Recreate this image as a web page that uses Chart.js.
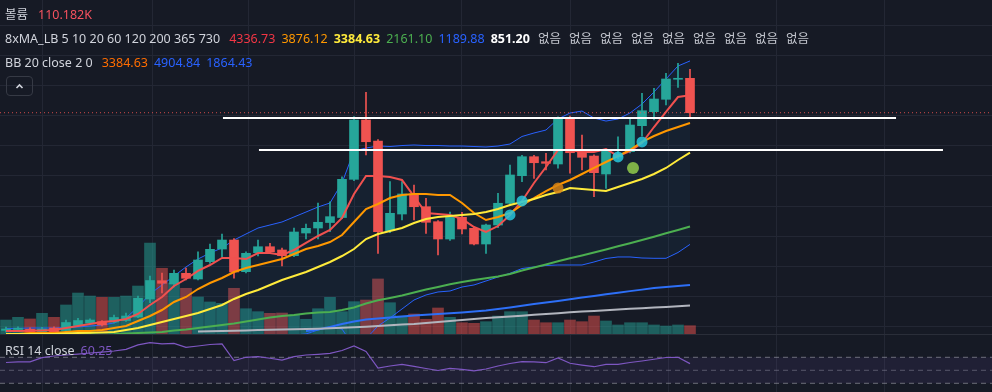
<!DOCTYPE html>
<html>
<head>
<meta charset="utf-8">
<script src="https://cdn.jsdelivr.net/npm/chart.js@4/dist/chart.umd.min.js"></script>
<style>
html, body { margin: 0; padding: 0; background: #161a25; }
#wrap { position: relative; width: 992px; height: 392px; overflow: hidden; background: #161a25;
  font-family: "Noto Sans", "Noto Sans CJK KR", sans-serif; font-size: 12.5px; color: #d1d4dc; }
#main { position: absolute; left: 0; top: 0; }
#rsi { position: absolute; left: 0; top: 335px; }
.sep { position: absolute; left: 0; top: 334px; width: 992px; height: 1px; background: #2a2e39; }
.row { position: absolute; left: 5px; display: flex; column-gap: 6px; white-space: nowrap; line-height: 16px; }
.row .first { margin-left: 3px; }
.row .na { margin-left: 2px; color: #c3c6ce; }
.btn { position: absolute; left: 6px; top: 76px; width: 27px; height: 20px; border: 1px solid #363a45; border-radius: 4px; box-sizing: border-box; }
</style>
</head>
<body>
<div id="wrap">
  <canvas id="main" width="992" height="334"></canvas>
  <div class="sep"></div>
  <canvas id="rsi" width="992" height="57"></canvas>

  <div class="row" style="top:7px;column-gap:10px">
    <span>볼륨</span><span style="color:#f7525f">110.182K</span>
  </div>
  <div class="row" style="top:31px">
    <span>8xMA_LB 5 10 20 60 120 200 365 730</span>
    <span class="first" style="color:#f23645">4336.73</span>
    <span style="color:#ff9800">3876.12</span>
    <span style="color:#ffeb3b;font-weight:bold">3384.63</span>
    <span style="color:#4caf50">2161.10</span>
    <span style="color:#2962ff">1189.88</span>
    <span style="color:#ffffff;font-weight:bold">851.20</span>
    <span class="na">없음</span><span class="na">없음</span><span class="na">없음</span>
    <span class="na">없음</span><span class="na">없음</span><span class="na">없음</span>
    <span class="na">없음</span><span class="na">없음</span><span class="na">없음</span>
  </div>
  <div class="row" style="top:55px">
    <span>BB 20 close 2 0</span>
    <span class="first" style="color:#ff6d00">3384.63</span>
    <span style="color:#2962ff">4904.84</span>
    <span style="color:#2962ff">1864.43</span>
  </div>

  <div class="btn">
    <svg width="25" height="18" viewBox="0 0 25 18"><polyline points="9.5,11 12.5,8 15.5,11" fill="none" stroke="#d1d4dc" stroke-width="1.6"/></svg>
  </div>

  <div class="row" style="top:343px">
    <span>RSI 14 close</span><span style="color:#7e57c2">60.25</span>
  </div>
</div>

<script>
// candles, oldest first
const opens  = [440,455,457,418,479,438,520,562,583,578,603,661,960,1263,1208,1385,1291,1578,1788,1937,
                1412,1727,1826,1772,1677,2053,2136,2227,2310,2943,3926,3578,2092,2368,2700,2489,2241,1954,2314,2131,
                1871,2186,2546,3003,3318,3235,3197,3954,3401,3329,3031,3313,3401,3832,4064,4269,4601,4617]
const highs  = [495,500,480,490,500,612,640,630,600,694,727,1009,1341,1390,1440,1473,1743,1871,2037,1960,
                1740,1937,1883,1805,2136,2203,2551,2572,2986,3981,4385,3600,2904,2904,2849,2628,2260,2401,2396,2150,
                2200,2711,3180,3340,3340,3374,3980,3990,3678,3350,3440,3649,3938,4369,4451,4700,4866,4766]
const lows   = [415,435,400,405,405,420,505,545,515,565,590,650,898,1059,1160,1274,1274,1550,1661,1303,
                1390,1672,1720,1506,1660,1954,1954,2075,2290,2920,3346,1717,2060,2269,2269,2048,1689,1930,2037,1855,
                1717,2141,2530,2904,2960,3097,3126,3043,3097,2655,2794,3290,3380,3661,3926,4175,4468,3981]
const closes = [462,475,418,462,418,570,603,611,529,653,678,971,1266,1220,1385,1303,1606,1783,1937,1407,
                1717,1826,1743,1677,2070,2131,2231,2324,2943,3926,3566,2075,2380,2700,2489,2231,1954,2314,2120,1871,
                2186,2546,3015,3318,3218,3208,3954,3384,3308,3053,3417,3363,3843,4080,4274,4606,4617,4047]
const volumesK = [186,222,200,275,222,386,545,505,488,488,505,638,1210,874,678,608,492,426,408,608,
                  336,297,275,279,253,196,336,488,297,430,452,732,416,239,266,196,346,222,150,142,
                  164,239,297,297,186,150,150,186,164,239,173,120,150,150,120,106,120,110.182]

// 8xMA_LB lines
const ma5  = [430,430,432,438,446,479,512,545,578,595,628,711,860,993,1175,1291,1424,1523,1639,1639,
              1622,1722,1722,1689,1772,1888,2004,2103,2302,2700,2998,2998,2981,2932,2660,2385,2368,2352,2285,2153,
              2070,2169,2352,2584,2882,3147,3429,3429,3396,3396,3446,3329,3412,3545,3810,4059,4307,4336.73]
const ma10 = [380,380,396,396,396,413,429,429,446,479,512,595,678,777,910,993,1125,1225,1308,1407,
              1473,1523,1573,1622,1705,1788,1838,1904,2020,2236,2451,2534,2633,2683,2700,2700,2683,2683,2551,2385,
              2269,2319,2385,2517,2633,2749,2849,2932,3031,3131,3230,3329,3429,3562,3661,3744,3810,3876.12]
const ma20 = [380,380,380,380,380,388,396,396,404,413,446,479,529,578,628,678,728,794,860,960,
              1042,1109,1192,1274,1340,1407,1490,1573,1672,1788,1954,2037,2087,2136,2219,2285,2319,2335,2352,2368,
              2401,2451,2517,2567,2617,2683,2733,2799,2783,2766,2749,2816,2882,2948,3031,3131,3263,3384.63]
const ma60 = [346,350,353,356,358,361,365,368,372,376,388,396,404,413,438,454,479,504,529,554,
              587,620,653,678,694,719,736,744,777,819,885,938,976,1018,1068,1117,1159,1203,1241,1274,
              1303,1332,1374,1432,1482,1531,1584,1634,1681,1730,1780,1833,1883,1937,1992,2048,2103,2161.10]
const ma120 = [null,null,null,null,null,null,null,null,null,null,null,null,null,null,null,null,null,null,null,null,
               null,null,null,null,null,429,454,496,545,587,620,636,653,670,686,698,711,723,736,752,
               770,795,820,848,875,902,928,955,983,1010,1038,1065,1090,1115,1140,1158,1175,1189.88]
const ma200 = [null,null,null,null,null,null,null,null,null,null,null,null,null,null,null,null,421,426,429,434,
               439,444,449,454,459,462,467,474,482,491,500,512,524,535,545,562,578,595,612,628,
               645,656,670,683,698,711,724,738,751,761,772,784,797,807,819,829,840,851.20]

// BB 20 close 2
const bbUpper = [471,474,479,479,479,487,496,512,529,562,645,827,1042,1192,1341,1490,1622,1722,1805,1937,
                 2037,2136,2186,2236,2319,2401,2484,2551,2882,3412,3462,3495,3487,3503,3512,3503,3503,3495,3495,3487,
                 3479,3495,3528,3653,3711,3760,3943,4042,4075,3959,3909,3943,4042,4191,4390,4606,4821,4904.84]
const bbLower = [281,281,281,281,281,289,296,280,279,264,247,131,16,-36,-85,-134,-166,-134,-85,-17,
                 47,82,198,312,361,380,446,496,462,164,300,512,645,794,943,1026,1076,1092,1158,1192,
                 1258,1324,1385,1465,1490,1515,1523,1523,1523,1573,1631,1656,1656,1639,1634,1634,1730,1864.43]

// RSI 14 close
const rsi14 = [62,62.8,63,69.4,72,73.5,75,76.6,78,79.7,82.3,89,92.5,90.5,91.5,85.4,87.4,89.7,90.5,65,
               70,71,68.5,65.8,71,73.5,74.6,76,80.5,87.4,79,53.5,56.6,59.2,56,52.8,49.7,53,51.5,49,
               52,56.6,60.5,63.2,62.8,61.7,68.9,60.8,58,55.5,59.2,59.2,62,64.3,67,69.7,70,60.25]
const rsiLevels = [70, 50, 30]

// signal dots on the MA crossings
const cyanIdx = [42, 43, 51, 53]
const cyanPrice = [2352, 2584, 3314, 3563]
const orangeIdx = [46]
const orangePrice = [2799]
const greenIdx = [52.25]
const greenPrice = [3131]

// drawn horizontal levels (from bar, to bar, price)
const levelFrom = [18.08, 21.08]
const levelTo = [74.17, 78.08]
const levelPrice = [3959, 3429]

// vertical time grid (bar index) and price grid
const gridMarks = [3.08, 12.17, 20.17, 29.08, 38, 47.08, 55.17, 64.25, 73.25]
const priceTicks = [500, 1000, 1500, 2000, 2500, 3000, 3500, 4000, 4500, 5000, 5500]

const X_MIN = -0.5, X_MAX = 82.1667
const UP = '#26a69a', DOWN = '#ef5350'
const GRID = '#232734'

const isUp = closes.map((c, i) => c >= opens[i])
const pts = arr => arr.map((v, i) => ({x: i, y: v}))
const pairPts = (xs, ys) => xs.map((x, i) => ({x: x, y: ys[i]}))

function maLine(data, color, width) {
    return {type: 'line', data: pts(data), borderColor: color, borderWidth: width,
            pointRadius: 0, tension: 0, fill: false, order: 4}
}
function dots(xs, ys, color, r) {
    return {type: 'line', data: pairPts(xs, ys), showLine: false, pointRadius: r,
            pointBackgroundColor: color, pointBorderWidth: 0, order: 1}
}

const xScale = {
    type: 'linear', min: X_MIN, max: X_MAX, offset: false,
    grid: {color: GRID, drawTicks: false, offset: false}, border: {display: false},
    ticks: {display: false},
    afterBuildTicks: s => { s.ticks = gridMarks.map(v => ({value: v})) }
}

const datasets = [
    {type: 'bar', data: pts(volumesK), yAxisID: 'yv', grouped: false, barThickness: 11,
     backgroundColor: isUp.map(u => u ? 'rgba(38,166,154,0.5)' : 'rgba(239,83,80,0.5)'), order: 20},
    {type: 'line', data: pts(bbUpper), borderColor: '#2962ff', borderWidth: 1, pointRadius: 0, tension: 0,
     fill: '+1', backgroundColor: 'rgba(33,150,243,0.06)', order: 15},
    {type: 'line', data: pts(bbLower), borderColor: '#2962ff', borderWidth: 1, pointRadius: 0, tension: 0,
     fill: false, order: 15},
    {type: 'bar', data: lows.map((l, i) => ({x: i, y: [l, highs[i]]})), grouped: false, barThickness: 1,
     backgroundColor: isUp.map(u => u ? UP : DOWN), order: 10},
    {type: 'bar', data: opens.map((o, i) => ({x: i, y: [o, closes[i]]})), grouped: false, barThickness: 9,
     minBarLength: 1, backgroundColor: isUp.map(u => u ? UP : DOWN), order: 9},
    maLine(ma200, '#b2b5be', 2),
    maLine(ma120, '#2d6ff7', 2),
    maLine(ma60, '#4caf50', 2),
    maLine(ma20, '#ffeb3b', 2),
    maLine(ma10, '#ff9800', 2),
    maLine(ma5, '#f0514f', 2),
    {type: 'line', data: [{x: X_MIN, y: closes[closes.length - 1]}, {x: X_MAX, y: closes[closes.length - 1]}],
     borderColor: 'rgba(239,83,80,0.85)', borderWidth: 1, borderDash: [1, 3], pointRadius: 0, order: 3},
    {type: 'line', data: [{x: levelFrom[0], y: levelPrice[0]}, {x: levelTo[0], y: levelPrice[0]}],
     borderColor: '#ffffff', borderWidth: 2, pointRadius: 0, order: 2},
    {type: 'line', data: [{x: levelFrom[1], y: levelPrice[1]}, {x: levelTo[1], y: levelPrice[1]}],
     borderColor: '#ffffff', borderWidth: 2, pointRadius: 0, order: 2},
    dots(cyanIdx, cyanPrice, 'rgba(38,198,218,0.85)', 5.5),
    dots(orangeIdx, orangePrice, 'rgba(214,130,20,0.85)', 5.5),
    dots(greenIdx, greenPrice, 'rgba(139,195,74,0.9)', 6)
]

new Chart(document.getElementById('main'), {
    type: 'bar',
    data: {datasets},
    options: {
        responsive: false, animation: false,
        layout: {padding: 0, autoPadding: false},
        plugins: {legend: {display: false}, tooltip: {enabled: false}},
        scales: {
            x: xScale,
            y: {type: 'linear', position: 'right', min: 379.5, max: 5915,
                grid: {color: GRID, drawTicks: false}, border: {display: false},
                ticks: {display: false},
                afterBuildTicks: s => { s.ticks = priceTicks.map(v => ({value: v})) }},
            yv: {type: 'linear', display: false, min: 0, max: 4442}
        }
    }
})

const rsiGuide = (v, color) => ({
    type: 'line', data: [{x: X_MIN, y: v}, {x: X_MAX, y: v}], borderColor: color,
    borderWidth: 1, borderDash: [5, 4], pointRadius: 0, fill: false, order: 3
})

new Chart(document.getElementById('rsi'), {
    type: 'line',
    data: {datasets: [
        rsiGuide(rsiLevels[0], 'rgba(178,181,190,0.55)'),
        Object.assign(rsiGuide(rsiLevels[2], 'rgba(178,181,190,0.55)'),
                      {fill: '-1', backgroundColor: 'rgba(126,87,194,0.1)'}),
        rsiGuide(rsiLevels[1], 'rgba(178,181,190,0.4)'),
        {data: pts(rsi14), borderColor: '#7e57c2', borderWidth: 1.2, pointRadius: 0, tension: 0, order: 1}
    ]},
    options: {
        responsive: false, animation: false,
        layout: {padding: 0, autoPadding: false},
        plugins: {legend: {display: false}, tooltip: {enabled: false}},
        scales: {
            x: xScale,
            y: {type: 'linear', display: false, min: 16.6, max: 104.3}
        }
    }
})
</script>
</body>
</html>
